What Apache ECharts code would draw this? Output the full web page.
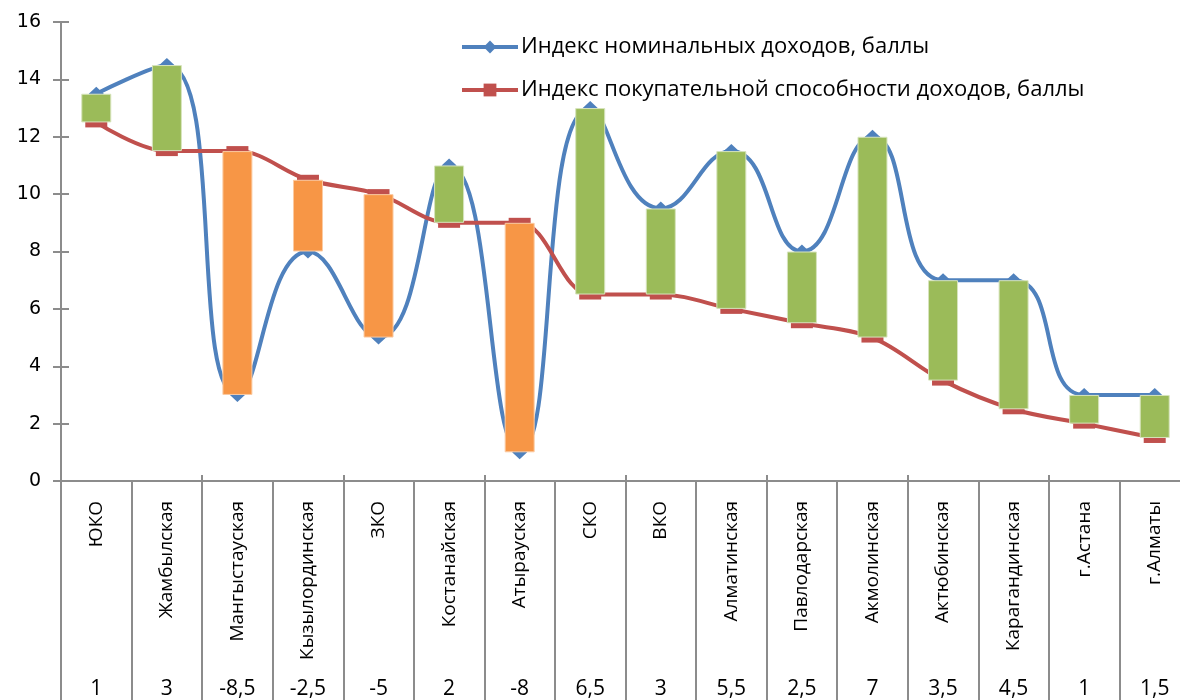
<!DOCTYPE html>
<html>
<head>
<meta charset="utf-8">
<script src="https://cdn.jsdelivr.net/npm/echarts@6/dist/echarts.min.js"></script>
<style>
  html, body { margin: 0; padding: 0; background: #fff; overflow: hidden; }
  /* a bit wider than the window: the last category is cut at the right edge, as in the original */
  #chart { width: 1190px; height: 700px; }
</style>
</head>
<body>
<div id="chart"></div>
<script>
// --- data ---
const regions = ['ЮКО', 'Жамбылская', 'Мангыстауская', 'Кызылординская', 'ЗКО', 'Костанайская', 'Атырауская',
    'СКО', 'ВКО', 'Алматинская', 'Павлодарская', 'Акмолинская', 'Актюбинская', 'Карагандинская', 'г.Астана', 'г.Алматы'];
const nominal    = [13.5, 14.5, 3, 8, 5, 11, 1, 13, 9.5, 11.5, 8, 12, 7, 7, 3, 3];
const purchasing = [12.5, 11.5, 11.5, 10.5, 10, 9, 9, 6.5, 6.5, 6, 5.5, 5, 3.5, 2.5, 2, 1.5];
const yTicks = [0, 2, 4, 6, 8, 10, 12, 14, 16];

const nameNominal = 'Индекс номинальных доходов, баллы';
const namePurchasing = 'Индекс покупательной способности доходов, баллы';

// floating bars between the two lines (green = nominal above, orange = below)
const diff = nominal.map((v, i) => v - purchasing[i]);
const base = nominal.map((v, i) => Math.min(v, purchasing[i]));
const upPart = diff.map(d => d > 0 ? d : '-');
const downPart = diff.map(d => d < 0 ? -d : '-');
const diffLabels = diff.map(d => String(d).replace('.', ','));

const axisGrey = '#8c8c8c';
const chart = echarts.init(document.getElementById('chart'));

chart.setOption({
    animation: false,
    textStyle: { fontFamily: 'Open Sans' },
    grid: { left: 61, right: 0, top: 22, bottom: 218, containLabel: false },
    legend: {
        data: [nameNominal, namePurchasing],
        orient: 'vertical',
        left: 455, top: 29,
        itemWidth: 56, itemHeight: 16, itemGap: 17,
        lineStyle: { width: 4 },
        textStyle: { fontSize: 22, lineHeight: 26, color: '#000', fontFamily: 'Open Sans', padding: [0, 0, 0, -2] }
    },
    xAxis: [
        {
            type: 'category', data: regions,
            axisLine: { lineStyle: { color: axisGrey, width: 2 } },
            axisTick: { show: true, length: 230, lineStyle: { color: axisGrey, width: 2 } },
            axisLabel: { rotate: 90, margin: 20, fontSize: 19, color: '#000', interval: 0 }
        },
        {
            type: 'category', data: regions, position: 'bottom',
            axisLine: { show: false },
            axisTick: { show: true, inside: true, length: 6, lineStyle: { color: axisGrey, width: 2 } },
            axisLabel: { show: false }
        },
        {
            type: 'category', data: diffLabels, position: 'bottom', offset: 192,
            axisLine: { show: false }, axisTick: { show: false },
            axisLabel: { margin: 6, fontSize: 21, color: '#000', interval: 0 }
        }
    ],
    yAxis: [
        {
            type: 'value', min: yTicks[0], max: yTicks[yTicks.length - 1], interval: 2,
            axisLine: { show: true, lineStyle: { color: axisGrey, width: 2 } },
            axisTick: { show: true, length: 8, lineStyle: { color: axisGrey, width: 2 } },
            splitLine: { show: false },
            axisLabel: { margin: 20, fontSize: 19, color: '#000', fontFamily: 'DejaVu Sans' }
        },
        {
            type: 'value', min: yTicks[0], max: yTicks[yTicks.length - 1], interval: 2, position: 'left',
            axisLine: { show: false },
            axisTick: { show: true, inside: true, length: 8, lineStyle: { color: axisGrey, width: 2 } },
            splitLine: { show: false },
            axisLabel: { show: false }
        }
    ],
    series: [
        {
            name: nameNominal, type: 'line', data: nominal, smooth: 0.5, z: 2,
            symbol: 'diamond', symbolSize: [15, 14],
            lineStyle: { color: '#4F81BD', width: 4 },
            itemStyle: { color: '#4F81BD' }
        },
        {
            name: namePurchasing, type: 'line', data: purchasing, smooth: 0.35, z: 2,
            symbol: 'rect', symbolSize: [22, 10],
            lineStyle: { color: '#C0504D', width: 4 },
            itemStyle: { color: '#C0504D' }
        },
        {
            name: 'base', type: 'bar', stack: 'gap', data: base, barWidth: 30, z: 3,
            itemStyle: { color: 'transparent' }, silent: true
        },
        {
            name: 'up', type: 'bar', stack: 'gap', data: upPart, barWidth: 30, z: 3,
            itemStyle: { color: '#9BBB59', borderColor: '#d7e4bd', borderWidth: 1 }
        },
        {
            name: 'down', type: 'bar', stack: 'gap', data: downPart, barWidth: 30, z: 3,
            itemStyle: { color: '#F79646', borderColor: '#fbcba3', borderWidth: 1 }
        }
    ]
});
</script>
</body>
</html>
